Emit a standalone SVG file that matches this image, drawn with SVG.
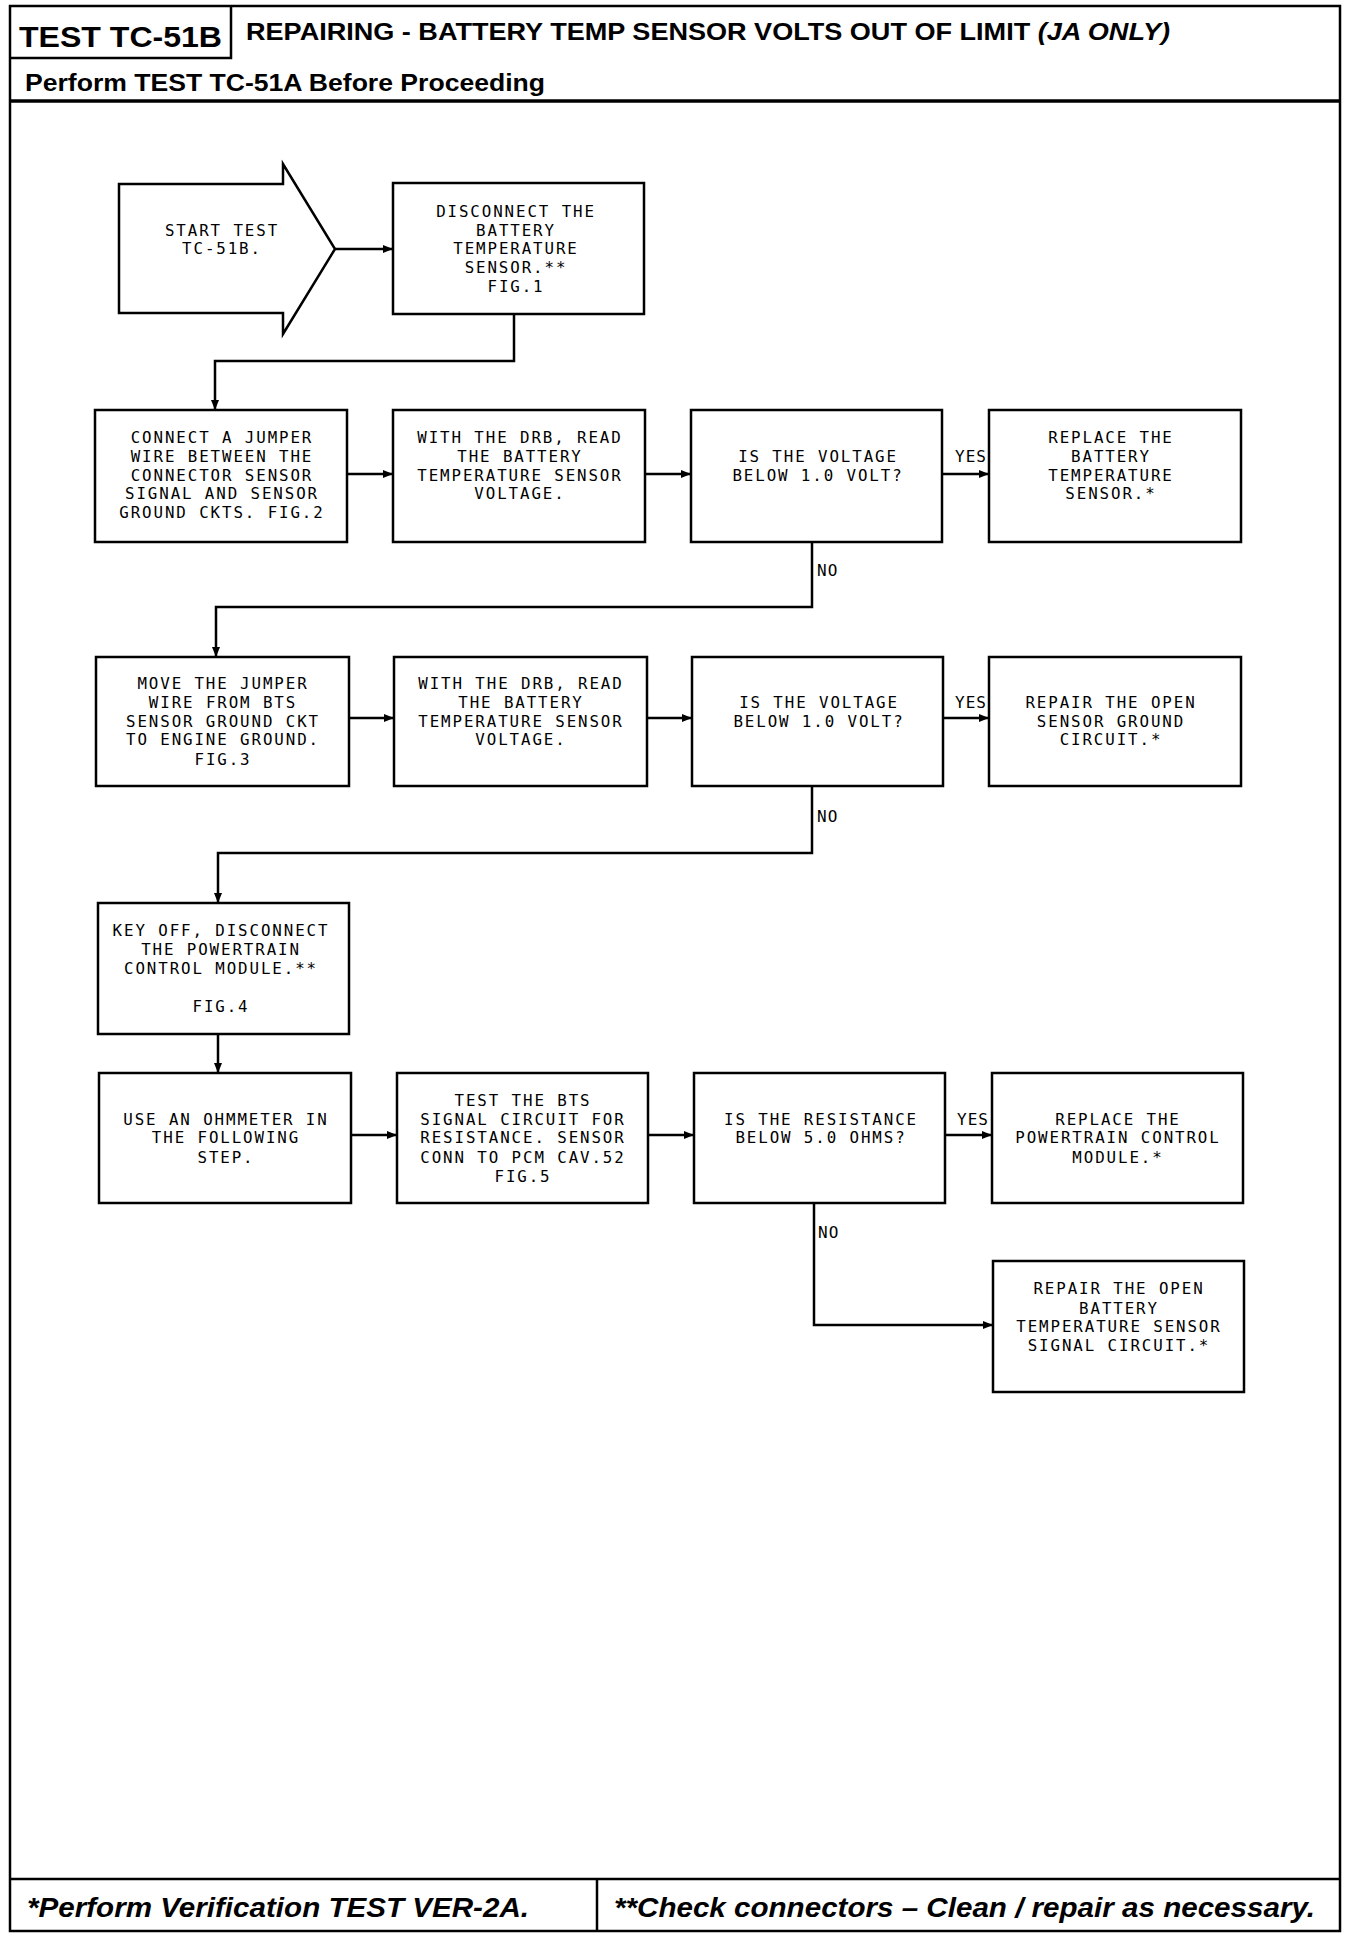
<svg xmlns="http://www.w3.org/2000/svg" width="1360" height="1936" viewBox="0 0 1360 1936">
<style>
.frame{fill:none;stroke:#000;stroke-width:2.5}
.box{fill:#fff;stroke:#000;stroke-width:2.5}
.con{fill:none;stroke:#000;stroke-width:2.5}
.t{font-family:"DejaVu Sans Mono","Liberation Mono",monospace;font-size:15.8px;letter-spacing:1.9px;fill:#000;text-anchor:middle}
.lbl{font-family:"DejaVu Sans Mono","Liberation Mono",monospace;font-size:16px;letter-spacing:1px;fill:#000}
.hb{font-family:"Liberation Sans",Arial,sans-serif;font-weight:bold;fill:#000}
.fi{font-family:"Liberation Sans",Arial,sans-serif;font-weight:bold;font-style:italic;fill:#000;font-size:28px}
</style>
<defs>
<marker id="ah" markerWidth="10" markerHeight="8" refX="10" refY="4" orient="auto" markerUnits="userSpaceOnUse">
<path d="M0,0 L10,4 L0,8 Z" fill="#000"/>
</marker>
</defs>
<rect x="0" y="0" width="1360" height="1936" fill="#fff"/>
<g id="frame">
<rect class="frame" x="10" y="6" width="1330" height="1925"/>
<path class="frame" d="M10,58 H231 V6"/>
<line x1="10" y1="101" x2="1340" y2="101" stroke="#000" stroke-width="3.5"/>
<line x1="10" y1="1879" x2="1340" y2="1879" stroke="#000" stroke-width="2.5"/>
<line x1="597" y1="1879" x2="597" y2="1931" stroke="#000" stroke-width="2.5"/>
<text class="hb" x="19" y="47" font-size="29" textLength="203" lengthAdjust="spacingAndGlyphs">TEST TC-51B</text>
<text class="hb" x="246" y="40" font-size="23" textLength="924" lengthAdjust="spacingAndGlyphs">REPAIRING - BATTERY TEMP SENSOR VOLTS OUT OF LIMIT <tspan font-style="italic">(JA ONLY)</tspan></text>
<text class="hb" x="25" y="91" font-size="23" textLength="520" lengthAdjust="spacingAndGlyphs">Perform TEST TC-51A Before Proceeding</text>
<text class="fi" x="27" y="1917" textLength="502" lengthAdjust="spacingAndGlyphs">*Perform Verification TEST VER-2A.</text>
<text class="fi" x="614" y="1917" textLength="701" lengthAdjust="spacingAndGlyphs">**Check connectors – Clean / repair as necessary.</text>
</g>
<g id="connectors">
<line class="con" x1="335" y1="249" x2="393" y2="249" marker-end="url(#ah)"/>
<polyline class="con" points="514,314 514,361 215,361 215,410" marker-end="url(#ah)"/>
<line class="con" x1="347" y1="474" x2="393" y2="474" marker-end="url(#ah)"/>
<line class="con" x1="645" y1="474" x2="691" y2="474" marker-end="url(#ah)"/>
<line class="con" x1="942" y1="474" x2="989" y2="474" marker-end="url(#ah)"/>
<polyline class="con" points="812,542 812,607 216,607 216,657" marker-end="url(#ah)"/>
<line class="con" x1="349" y1="718" x2="394" y2="718" marker-end="url(#ah)"/>
<line class="con" x1="647" y1="718" x2="692" y2="718" marker-end="url(#ah)"/>
<line class="con" x1="943" y1="718" x2="989" y2="718" marker-end="url(#ah)"/>
<polyline class="con" points="812,786 812,853 218,853 218,903" marker-end="url(#ah)"/>
<line class="con" x1="218" y1="1034" x2="218" y2="1073" marker-end="url(#ah)"/>
<line class="con" x1="351" y1="1135" x2="397" y2="1135" marker-end="url(#ah)"/>
<line class="con" x1="648" y1="1135" x2="694" y2="1135" marker-end="url(#ah)"/>
<line class="con" x1="945" y1="1135" x2="992" y2="1135" marker-end="url(#ah)"/>
<polyline class="con" points="814,1203 814,1325 993,1325" marker-end="url(#ah)"/>
<text class="lbl" x="955" y="462">YES</text>
<text class="lbl" x="817" y="576">NO</text>
<text class="lbl" x="955" y="708">YES</text>
<text class="lbl" x="817" y="822">NO</text>
<text class="lbl" x="957" y="1125">YES</text>
<text class="lbl" x="818" y="1238">NO</text>
</g>
<g id="start">
<polygon class="box" points="119,184 283,184 283,164 335,249 283,334 283,313 119,313"/>
<text class="t" x="222" y="236">START TEST</text>
<text class="t" x="222" y="254">TC-51B.</text>
</g>
<g id="disconnect-bts">
<rect class="box" x="393" y="183" width="251" height="131"/>
<text class="t" x="516" y="217">DISCONNECT THE</text>
<text class="t" x="516" y="236">BATTERY</text>
<text class="t" x="516" y="254">TEMPERATURE</text>
<text class="t" x="516" y="273">SENSOR.**</text>
<text class="t" x="516" y="292">FIG.1</text>
</g>
<g id="connect-jumper">
<rect class="box" x="95" y="410" width="252" height="132"/>
<text class="t" x="222" y="443">CONNECT A JUMPER</text>
<text class="t" x="222" y="462">WIRE BETWEEN THE</text>
<text class="t" x="222" y="481">CONNECTOR SENSOR</text>
<text class="t" x="222" y="499">SIGNAL AND SENSOR</text>
<text class="t" x="222" y="518">GROUND CKTS. FIG.2</text>
</g>
<g id="read-voltage-1">
<rect class="box" x="393" y="410" width="252" height="132"/>
<text class="t" x="520" y="443">WITH THE DRB, READ</text>
<text class="t" x="520" y="462">THE BATTERY</text>
<text class="t" x="520" y="481">TEMPERATURE SENSOR</text>
<text class="t" x="520" y="499">VOLTAGE.</text>
</g>
<g id="decision-voltage-1">
<rect class="box" x="691" y="410" width="251" height="132"/>
<text class="t" x="818" y="462">IS THE VOLTAGE</text>
<text class="t" x="818" y="481">BELOW 1.0 VOLT?</text>
</g>
<g id="replace-sensor">
<rect class="box" x="989" y="410" width="252" height="132"/>
<text class="t" x="1111" y="443">REPLACE THE</text>
<text class="t" x="1111" y="462">BATTERY</text>
<text class="t" x="1111" y="481">TEMPERATURE</text>
<text class="t" x="1111" y="499">SENSOR.*</text>
</g>
<g id="move-jumper">
<rect class="box" x="96" y="657" width="253" height="129"/>
<text class="t" x="223" y="689">MOVE THE JUMPER</text>
<text class="t" x="223" y="708">WIRE FROM BTS</text>
<text class="t" x="223" y="727">SENSOR GROUND CKT</text>
<text class="t" x="223" y="745">TO ENGINE GROUND.</text>
<text class="t" x="223" y="765">FIG.3</text>
</g>
<g id="read-voltage-2">
<rect class="box" x="394" y="657" width="253" height="129"/>
<text class="t" x="521" y="689">WITH THE DRB, READ</text>
<text class="t" x="521" y="708">THE BATTERY</text>
<text class="t" x="521" y="727">TEMPERATURE SENSOR</text>
<text class="t" x="521" y="745">VOLTAGE.</text>
</g>
<g id="decision-voltage-2">
<rect class="box" x="692" y="657" width="251" height="129"/>
<text class="t" x="819" y="708">IS THE VOLTAGE</text>
<text class="t" x="819" y="727">BELOW 1.0 VOLT?</text>
</g>
<g id="repair-ground">
<rect class="box" x="989" y="657" width="252" height="129"/>
<text class="t" x="1111" y="708">REPAIR THE OPEN</text>
<text class="t" x="1111" y="727">SENSOR GROUND</text>
<text class="t" x="1111" y="745">CIRCUIT.*</text>
</g>
<g id="key-off">
<rect class="box" x="98" y="903" width="251" height="131"/>
<text class="t" x="221" y="936">KEY OFF, DISCONNECT</text>
<text class="t" x="221" y="955">THE POWERTRAIN</text>
<text class="t" x="221" y="974">CONTROL MODULE.**</text>
<text class="t" x="221" y="1012">FIG.4</text>
</g>
<g id="use-ohmmeter">
<rect class="box" x="99" y="1073" width="252" height="130"/>
<text class="t" x="226" y="1125">USE AN OHMMETER IN</text>
<text class="t" x="226" y="1143">THE FOLLOWING</text>
<text class="t" x="226" y="1163">STEP.</text>
</g>
<g id="test-signal">
<rect class="box" x="397" y="1073" width="251" height="130"/>
<text class="t" x="523" y="1106">TEST THE BTS</text>
<text class="t" x="523" y="1125">SIGNAL CIRCUIT FOR</text>
<text class="t" x="523" y="1143">RESISTANCE. SENSOR</text>
<text class="t" x="523" y="1163">CONN TO PCM CAV.52</text>
<text class="t" x="523" y="1182">FIG.5</text>
</g>
<g id="decision-resistance">
<rect class="box" x="694" y="1073" width="251" height="130"/>
<text class="t" x="821" y="1125">IS THE RESISTANCE</text>
<text class="t" x="821" y="1143">BELOW 5.0 OHMS?</text>
</g>
<g id="replace-pcm">
<rect class="box" x="992" y="1073" width="251" height="130"/>
<text class="t" x="1118" y="1125">REPLACE THE</text>
<text class="t" x="1118" y="1143">POWERTRAIN CONTROL</text>
<text class="t" x="1118" y="1163">MODULE.*</text>
</g>
<g id="repair-signal">
<rect class="box" x="993" y="1261" width="251" height="131"/>
<text class="t" x="1119" y="1294">REPAIR THE OPEN</text>
<text class="t" x="1119" y="1314">BATTERY</text>
<text class="t" x="1119" y="1332">TEMPERATURE SENSOR</text>
<text class="t" x="1119" y="1351">SIGNAL CIRCUIT.*</text>
</g>
</svg>
